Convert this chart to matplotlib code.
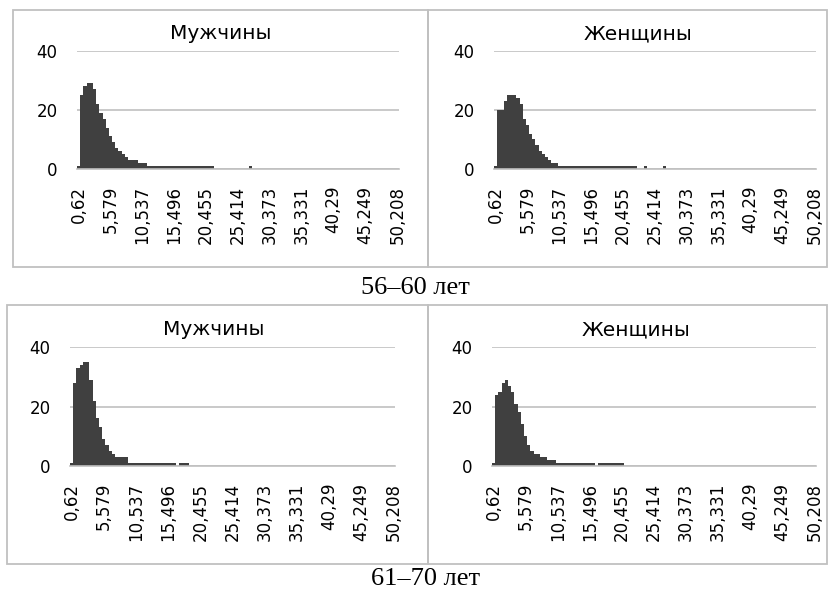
import numpy as np
import matplotlib.pyplot as plt
from matplotlib.patches import Rectangle

# Histogramas: 101 intervalos, etiqueta cada 10 intervalos
tick_labels = ['0,62', '5,579', '10,537', '15,496', '20,455', '25,414',
               '30,373', '35,331', '40,29', '45,249', '50,208']

men_56_60 = [1, 25, 28, 29, 29, 27, 22, 19, 17, 14, 11, 9, 7, 6, 5, 4, 3, 3, 3, 2,
             2, 2, 1, 1, 1, 1, 1, 1, 1, 1, 1, 1, 1, 1, 1, 1, 1, 1, 1, 1,
             1, 1, 1, 0, 0, 0, 0, 0, 0, 0, 0, 0, 0, 0, 1, 0, 0, 0, 0, 0,
             0, 0, 0, 0, 0, 0, 0, 0, 0, 0, 0, 0, 0, 0, 0, 0, 0, 0, 0, 0,
             0, 0, 0, 0, 0, 0, 0, 0, 0, 0, 0, 0, 0, 0, 0, 0, 0, 0, 0, 0,
             0]
women_56_60 = [1, 20, 20, 23, 25, 25, 25, 24, 22, 17, 15, 12, 10, 8, 6, 5, 4, 3, 2, 2,
               1, 1, 1, 1, 1, 1, 1, 1, 1, 1, 1, 1, 1, 1, 1, 1, 1, 1, 1, 1,
               1, 1, 1, 1, 1, 0, 0, 1, 0, 0, 0, 0, 0, 1, 0, 0, 0, 0, 0, 0,
               0, 0, 0, 0, 0, 0, 0, 0, 0, 0, 0, 0, 0, 0, 0, 0, 0, 0, 0, 0,
               0, 0, 0, 0, 0, 0, 0, 0, 0, 0, 0, 0, 0, 0, 0, 0, 0, 0, 0, 0,
               0]
men_61_70 = [1, 28, 33, 34, 35, 35, 29, 22, 16, 13, 9, 7, 5, 4, 3, 3, 3, 3, 1, 1,
             1, 1, 1, 1, 1, 1, 1, 1, 1, 1, 1, 1, 1, 0, 1, 1, 1, 0, 0, 0,
             0, 0, 0, 0, 0, 0, 0, 0, 0, 0, 0, 0, 0, 0, 0, 0, 0, 0, 0, 0,
             0, 0, 0, 0, 0, 0, 0, 0, 0, 0, 0, 0, 0, 0, 0, 0, 0, 0, 0, 0,
             0, 0, 0, 0, 0, 0, 0, 0, 0, 0, 0, 0, 0, 0, 0, 0, 0, 0, 0, 0,
             0]
women_61_70 = [1, 24, 25, 28, 29, 27, 25, 21, 18, 14, 10, 7, 5, 4, 4, 3, 3, 2, 2, 2,
               1, 1, 1, 1, 1, 1, 1, 1, 1, 1, 1, 1, 0, 1, 1, 1, 1, 1, 1, 1,
               1, 0, 0, 0, 0, 0, 0, 0, 0, 0, 0, 0, 0, 0, 0, 0, 0, 0, 0, 0,
               0, 0, 0, 0, 0, 0, 0, 0, 0, 0, 0, 0, 0, 0, 0, 0, 0, 0, 0, 0,
               0, 0, 0, 0, 0, 0, 0, 0, 0, 0, 0, 0, 0, 0, 0, 0, 0, 0, 0, 0,
               0]

W, H = 832, 594
fig = plt.figure(figsize=(W / 100, H / 100), dpi=100)
plt.rcParams['font.family'] = ['DejaVu Sans']

GRIS = '#c0c0c0'
BARRA = '#404040'


def rect_px(x0, y0, x1, y1):
    return [x0 / W, 1 - y1 / H, (x1 - x0) / W, (y1 - y0) / H]


def histograma(pos, datos, titulo, tx, ty):
    ax = fig.add_axes(rect_px(*pos))
    x = np.arange(len(datos))
    ax.bar(x, datos, width=1.0, color=BARRA, linewidth=0, zorder=2)
    ax.set_xlim(-0.5, len(datos) - 0.5)
    ax.set_ylim(0, 40)
    ax.set_yticks([0, 20, 40])
    ax.set_xticks(np.arange(0, len(datos), 10))
    ax.set_xticklabels(tick_labels, rotation=90, fontsize=12)
    ax.tick_params(axis='y', length=0, pad=14, labelsize=12)
    ax.tick_params(axis='x', length=0, pad=12)
    ax.yaxis.grid(True, color=GRIS, linewidth=1.2, zorder=0)
    ax.set_axisbelow(True)
    for s in ['top', 'right', 'left']:
        ax.spines[s].set_visible(False)
    ax.spines['bottom'].set_color(GRIS)
    ax.spines['bottom'].set_linewidth(1.2)
    fig.text(tx / W, 1 - ty / H, titulo, fontsize=14.5, ha='center', va='baseline')
    return ax


histograma((77, 50.7, 399, 169), men_56_60, 'Мужчины', 221, 39)
histograma((494, 50.7, 816, 169), women_56_60, 'Женщины', 638, 39)
histograma((70, 347, 395, 466), men_61_70, 'Мужчины', 214, 335)
histograma((492, 347, 816, 466), women_61_70, 'Женщины', 636, 335)

# Marcos de los graficos
for (x0, y0, x1, y1) in [(13, 10, 428, 267), (428, 10, 827, 267),
                         (7, 305, 428, 564), (428, 305, 827, 564)]:
    fig.patches.append(Rectangle((x0 / W, 1 - y1 / H), (x1 - x0) / W, (y1 - y0) / H,
                                 transform=fig.transFigure, fill=False,
                                 edgecolor=GRIS, linewidth=1.3))

fig.text(415 / W, 1 - 288 / H, '56–60 лет', family='Liberation Serif',
         fontsize=19, ha='center', va='center')
fig.text(426 / W, 1 - 579 / H, '61–70 лет', family='Liberation Serif',
         fontsize=19, ha='center', va='center')

fig.savefig('out.png', dpi=100)
